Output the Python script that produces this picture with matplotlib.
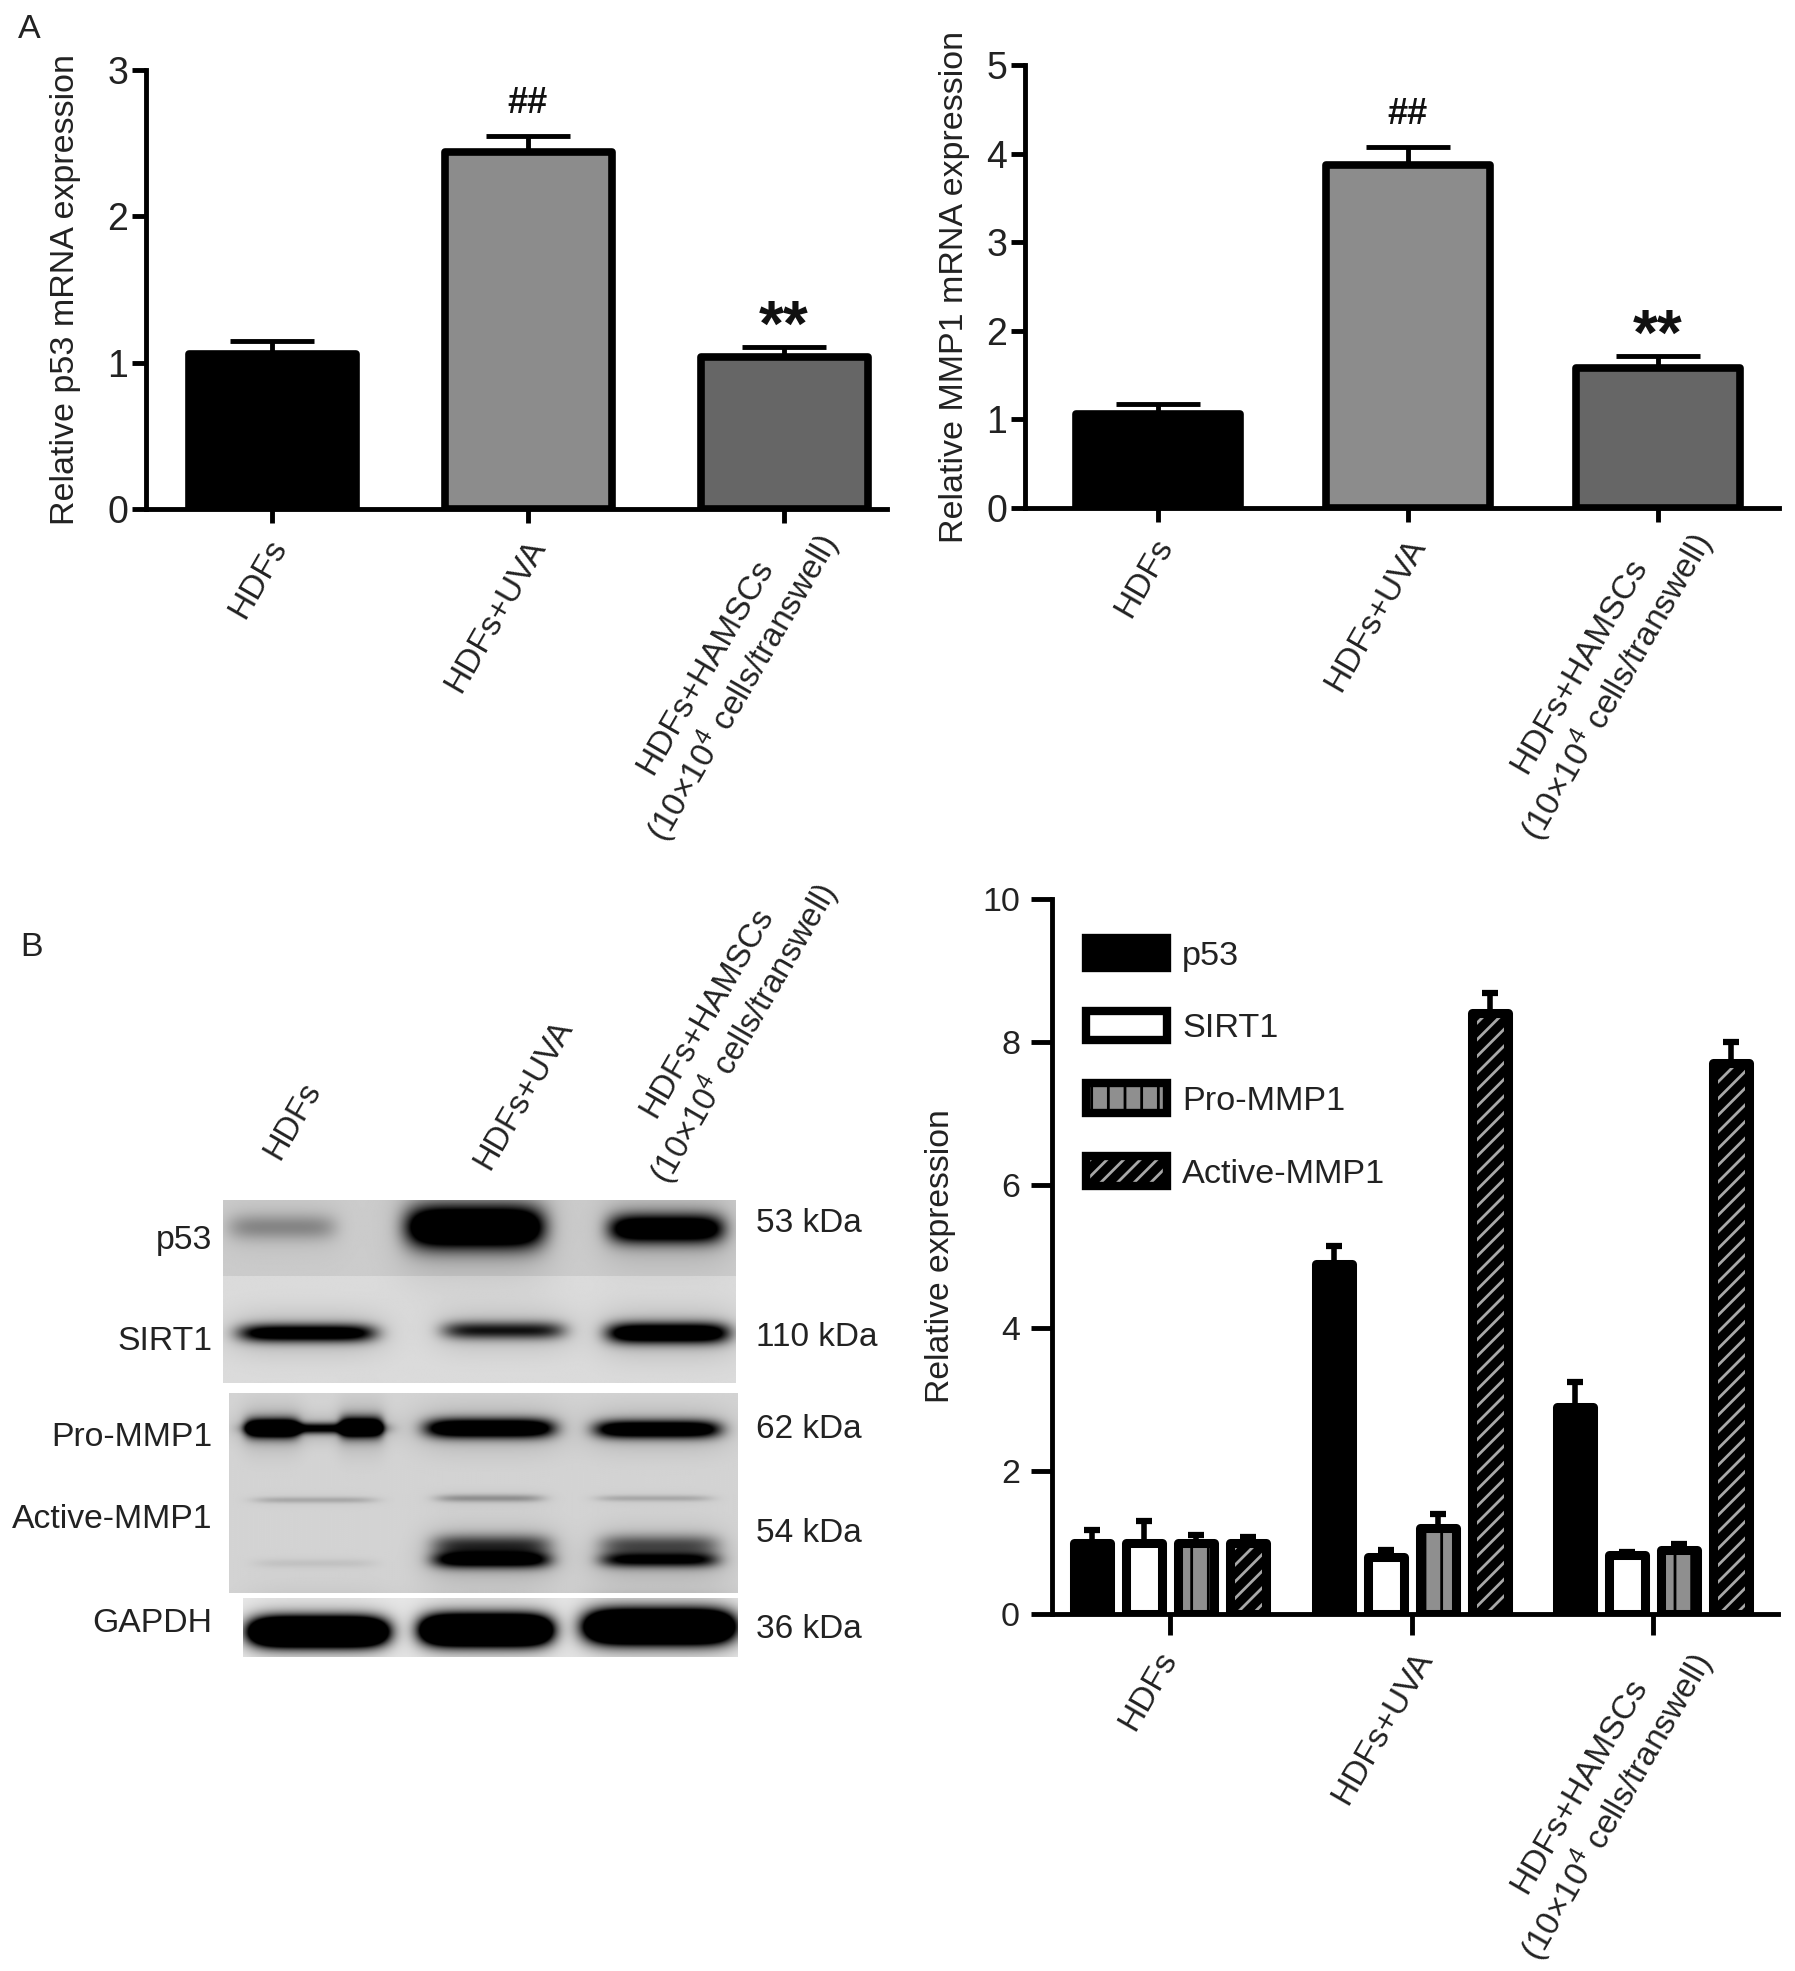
import numpy as np
import matplotlib
matplotlib.use('Agg')
import matplotlib.pyplot as plt
from matplotlib.legend_handler import HandlerTuple
from matplotlib.transforms import ScaledTranslation

W, H = 1795, 1971
plt.rcParams['font.family'] = ['Liberation Sans', 'DejaVu Sans']
plt.rcParams['mathtext.fontset'] = 'custom'
plt.rcParams['mathtext.rm'] = 'Liberation Sans'
plt.rcParams['mathtext.default'] = 'regular'
plt.rcParams['hatch.linewidth'] = 2.0
plt.rcParams['text.color'] = '#222222'

# data
groups = ['HDFs', 'HDFs+UVA', 'HDFs+HAMSCs\n(10$\\times$10$^4$ cells/transwell)']
p53_mrna = [1.06, 2.44, 1.04]
p53_mrna_err = [0.09, 0.11, 0.07]
mmp1_mrna = [1.06, 3.87, 1.58]
mmp1_mrna_err = [0.11, 0.20, 0.14]
mrna_colors = ['#000000', '#8c8c8c', '#666666']
mrna_marks = ['', '##', '**']

series = ['p53', 'SIRT1', 'Pro-MMP1', 'Active-MMP1']
p53_prot = [1.0, 4.9, 2.9]
p53_prot_err = [0.18, 0.25, 0.35]
sirt1_prot = [1.0, 0.8, 0.82]
sirt1_prot_err = [0.30, 0.10, 0.05]
pro_prot = [1.0, 1.2, 0.9]
pro_prot_err = [0.10, 0.20, 0.08]
active_prot = [1.0, 8.4, 7.7]
active_prot_err = [0.07, 0.28, 0.30]

blot_left = ['p53', 'SIRT1', 'Pro-MMP1', 'Active-MMP1', 'GAPDH']
blot_left_y = [1240, 1341, 1438, 1519, 1623]
blot_right = ['53 kDa', '110 kDa', '62 kDa', '54 kDa', '36 kDa']
blot_right_y = [1224, 1338, 1430, 1533, 1630]

# blot strips: left, top, right, bottom, background grey (zoom crop px)
strips = [(65, 60, 1500, 290, 0.80), (65, 290, 1500, 610, 0.86),
          (80, 640, 1505, 1240, 0.83), (120, 1255, 1505, 1430, 0.93)]
# bands: centre x, centre y, half width, half height, strength
bands = [(230, 140, 150, 38, 0.30), (770, 140, 190, 60, 1.8), (1305, 145, 160, 42, 1.4),
         (300, 460, 190, 26, 1.2), (850, 452, 170, 26, 0.8), (1310, 460, 170, 30, 1.4),
         (200, 745, 75, 28, 1.4), (320, 745, 190, 16, 1.0), (450, 742, 60, 30, 1.4),
         (810, 745, 180, 28, 1.5), (1280, 748, 175, 26, 1.4),
         (320, 960, 170, 9, 0.18), (810, 955, 150, 11, 0.28), (1270, 955, 160, 9, 0.18),
         (320, 1150, 170, 13, 0.07), (815, 1140, 165, 24, 1.1), (815, 1095, 165, 30, 0.6),
         (1285, 1140, 165, 22, 0.9), (1285, 1095, 165, 30, 0.5),
         (330, 1355, 190, 40, 3.0), (800, 1350, 180, 42, 3.0), (1285, 1340, 205, 46, 3.0)]


def px_axes(fig, left, top, right, bottom):
    return fig.add_axes([left / W, 1 - bottom / H, (right - left) / W, (bottom - top) / H])


def style_axes(ax, lw, ticklen, fs, pad):
    for s in ['top', 'right']:
        ax.spines[s].set_visible(False)
    ax.spines['bottom'].set_visible(False)
    ax.spines['left'].set_linewidth(lw)
    ax.tick_params(axis='y', width=lw, length=ticklen, labelsize=fs, pad=pad, labelcolor='#222222')
    ax.tick_params(axis='x', width=lw, length=ticklen, labelsize=24, pad=8, labelcolor='#222222')
    ax.set_facecolor('none')


def nudge_labels(ax, offsets):
    # px offsets of the rotated tick labels
    for lab, (dx, dy) in zip(ax.get_xticklabels(), offsets):
        lab.set_transform(lab.get_transform() + ScaledTranslation(dx / 100, dy / 100, fig.dpi_scale_trans))


def mrna_panel(fig, box, x0, pitch, barw, vals, errs, ymax, yticks, ylabel, label_x):
    left, top, right, bottom = box
    ax = px_axes(fig, left, top, right, bottom)
    x = np.arange(len(vals))
    wid = (barw - 8) / pitch
    ax.bar(x, vals, width=wid, color=mrna_colors, edgecolor='black', linewidth=5.5, joinstyle='round')
    ax.errorbar(x, vals, yerr=[np.zeros(3), errs], fmt='none', ecolor='black',
                elinewidth=3.5, capsize=30, capthick=3.5)
    ax.set_xlim((left - x0) / pitch, (right - x0) / pitch)
    ax.set_ylim(0, ymax)
    ax.set_yticks(yticks)
    ax.set_xticks(x)
    ax.set_xticklabels(groups, rotation=60, ha='right', va='top', rotation_mode='anchor', multialignment='center')
    style_axes(ax, 3.5, 10, 27, 3)
    nudge_labels(ax, [(-6, 0), (-3, 0), (-5, 25)])
    ax.axhline(0, color='black', lw=3.5, zorder=5, clip_on=False)
    ax.set_ylabel(ylabel, fontsize=24.5, color='#222222')
    ax.yaxis.set_label_coords(label_x, 0.5)
    for i, m in enumerate(mrna_marks):
        top_v = vals[i] + errs[i]
        if m == '##':
            ax.annotate(m, (i, top_v), xytext=(0, 11), textcoords='offset points', ha='center',
                        va='bottom', fontsize=26, fontweight='bold', color='#111111')
        elif m == '**':
            ax.annotate(m, (i, top_v), xytext=(0, -9), textcoords='offset points', ha='center',
                        va='bottom', fontsize=46, fontweight='bold', color='#111111')
    return ax


fig = plt.figure(figsize=(W / 100, H / 100), dpi=100)

# top bar charts
mrna_panel(fig, (146, 70, 887, 509), 272, 256, 175, p53_mrna, p53_mrna_err, 3, [0, 1, 2, 3],
           'Relative p53 mRNA expression', -0.088)
mrna_panel(fig, (1025, 65, 1779, 508), 1158, 250, 172, mmp1_mrna, mmp1_mrna_err, 5, [0, 1, 2, 3, 4, 5],
           'Relative MMP1 mRNA expression', -0.073)

# grouped chart
left, top, right, bottom = 1052, 899, 1778, 1614
pitch = 241.5
ax = px_axes(fig, left, top, right, bottom)
x = np.arange(3)
step = 52 / pitch
wid = 36 / pitch
all_vals = [p53_prot, sirt1_prot, pro_prot, active_prot]
all_errs = [p53_prot_err, sirt1_prot_err, pro_prot_err, active_prot_err]
fills = ['black', 'white', '#8f8f8f', 'black']
hatch_cols = ['black', 'white', 'black', '#a8a8a8']
hatches = ['', '', '|', '//']
for i, name in enumerate(series):
    xs = x + (i - 1.5) * step
    ax.bar(xs, all_vals[i], width=wid, color=fills[i], edgecolor=hatch_cols[i], hatch=hatches[i], linewidth=0)
    ax.bar(xs, all_vals[i], width=wid, color='none', edgecolor='black', linewidth=6.5, joinstyle='round')
    ax.errorbar(xs, all_vals[i], yerr=[np.zeros(3), all_errs[i]], fmt='none', ecolor='black',
                elinewidth=4, capsize=6, capthick=4.5)
ax.set_xlim((left - 1170) / pitch, (right - 1170) / pitch)
ax.set_ylim(0, 10)
ax.set_yticks([0, 2, 4, 6, 8, 10])
ax.set_xticks(x)
ax.set_xticklabels(groups, rotation=60, ha='right', va='top', rotation_mode='anchor', multialignment='center')
style_axes(ax, 3.5, 15, 24.5, 8)
nudge_labels(ax, [(-14, 0), (0, 0), (0, 18)])
ax.axhline(0, color='black', lw=3.5, zorder=5, clip_on=False)
ax.set_ylabel('Relative expression', fontsize=24.3, color='#222222')
ax.yaxis.set_label_coords(-0.132, 0.5)

# legend handles, fill and outline drawn on top of each other
handles = []
for i, name in enumerate(series):
    h_fill = plt.Rectangle((0, 0), 1, 1, facecolor=fills[i], edgecolor=hatch_cols[i], linewidth=0, hatch=hatches[i])
    h_line = plt.Rectangle((0, 0), 1, 1, facecolor='none', edgecolor='black', linewidth=6, joinstyle='round')
    handles.append((h_fill, h_line))
leg = ax.legend(handles, series, handler_map={tuple: HandlerTuple(ndivide=1, pad=0)},
                loc='upper left', bbox_to_anchor=((1086 - left) / (right - left), 1 - (938 - top) / (bottom - top)),
                frameon=False, fontsize=24.7, handlelength=2.35, handleheight=0.95, labelspacing=1.14,
                handletextpad=0.45, borderaxespad=0, borderpad=0)
for t in leg.get_texts():
    t.set_color('#222222')

# overlay in pixel coordinates, blot and labels
ov = fig.add_axes([0, 0, 1, 1], zorder=-1)
ov.set_xlim(0, W)
ov.set_ylim(H, 0)
ov.axis('off')
sx = 1 / 2.8
sy = 1 / 3
for (l, t, r, b, bg) in strips:
    xx = np.arange(l, r, 2.0)
    yy = np.arange(t, b, 2.0)
    X, Y = np.meshgrid(xx, yy)
    dark = np.zeros_like(X)
    for cx, cy, hw, hh, s in bands:
        dark += s * np.exp(-((X - cx) / hw) ** 6) * np.exp(-((Y - cy) / hh) ** 2)
        # soft halo round each band
        dark += 0.16 * min(s, 1) * np.exp(-((X - cx) / (hw * 1.15)) ** 4) * np.exp(-((Y - cy) / (hh * 2.6)) ** 2)
    img = bg * (1 - np.clip(dark, 0, 1))
    ext = [200 + l * sx, 200 + r * sx, 1180 + b * sy, 1180 + t * sy]
    ov.imshow(img, cmap='gray', vmin=0, vmax=1, extent=ext, aspect='auto', interpolation='bilinear')
ov.set_xlim(0, W)
ov.set_ylim(H, 0)

ov.text(18, 29, 'A', fontsize=24.5, ha='left', va='center')
ov.text(20, 947, 'B', fontsize=24.5, ha='left', va='center')
for lab, y in zip(blot_left, blot_left_y):
    ov.text(212, y, lab, fontsize=24.3, ha='right', va='center')
for lab, y in zip(blot_right, blot_right_y):
    ov.text(756, y, lab, fontsize=24, ha='left', va='center')
for lab, cx, cy in zip(groups, [293, 524, 728], [1121, 1094, 1024]):
    ov.text(cx, cy, lab, fontsize=23.5, rotation=60, ha='center', va='center',
            rotation_mode='anchor', multialignment='center')

fig.savefig('out.png', dpi=100, facecolor='white')
